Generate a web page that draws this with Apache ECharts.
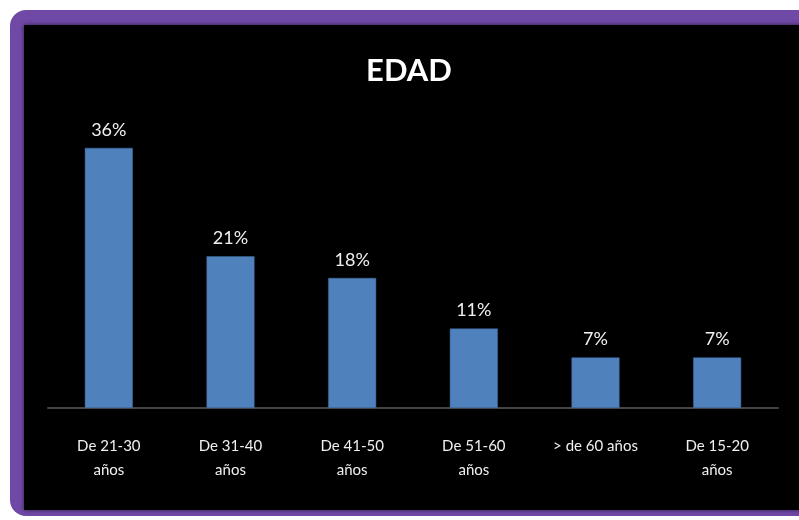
<!DOCTYPE html>
<html>
<head>
<meta charset="utf-8">
<script src="https://cdn.jsdelivr.net/npm/echarts@6/dist/echarts.min.js"></script>
<style>
  html, body { margin: 0; padding: 0; background: #ffffff; }
  #chart { width: 799px; height: 520px; }
</style>
</head>
<body>
<div id="chart"></div>
<script>
// Age groups and their share of respondents (percent)
const categories = ['De 21-30\naños', 'De 31-40\naños', 'De 41-50\naños', 'De 51-60\naños', '> de 60 años', 'De 15-20\naños'];
const shares = [36, 21, 18, 11, 7, 7];
const chartTitle = 'EDAD';

const chart = echarts.init(document.getElementById('chart'));

chart.setOption({
  backgroundColor: '#ffffff',
  animation: false,
  graphic: [
    // purple frame
    {
      type: 'rect', z: -10, silent: true,
      shape: { x: 10, y: 10, width: 820, height: 506, r: 16 },
      style: { fill: '#7048a6' }
    },
    // black panel inside the frame
    {
      type: 'rect', z: -9, silent: true,
      shape: { x: 24, y: 25, width: 800, height: 485 },
      style: { fill: '#000000', shadowBlur: 4, shadowColor: 'rgba(0,0,0,0.6)' }
    }
  ],
  title: {
    text: chartTitle,
    left: 404,
    textAlign: 'center',
    top: 50,
    textStyle: { color: '#ffffff', fontFamily: 'Lato', fontWeight: 'bold', fontSize: 31 }
  },
  grid: { left: 48, right: 21, top: 119, bottom: 112, containLabel: false },
  xAxis: {
    type: 'category',
    data: categories,
    axisLine: { lineStyle: { color: '#444444', width: 2 } },
    axisTick: { show: false },
    axisLabel: {
      color: '#f0f0f0',
      fontFamily: 'Lato',
      fontSize: 15,
      lineHeight: 24,
      margin: 26,
      interval: 0
    }
  },
  yAxis: {
    type: 'value',
    min: 0,
    max: 40,
    show: false,
    splitLine: { show: false }
  },
  series: [{
    type: 'bar',
    data: shares,
    barWidth: 48,
    itemStyle: { color: '#4f81bd', borderColor: '#3f6a9e', borderWidth: 0.5 },
    label: {
      show: true,
      position: 'top',
      distance: 9,
      formatter: p => p.value + '%',
      color: '#f0f0f0',
      fontFamily: 'Lato',
      fontSize: 18
    }
  }]
});
</script>
</body>
</html>
